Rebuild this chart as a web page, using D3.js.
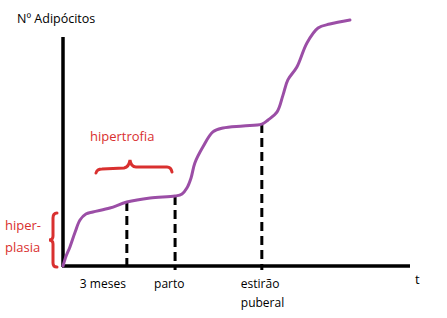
<!DOCTYPE html>
<html>
<head>
<meta charset="utf-8">
<script src="https://cdn.jsdelivr.net/npm/d3@7"></script>
<style>
  body { margin: 0; background: #fff; }
  text { font-family: "Open Sans", sans-serif; }
</style>
</head>
<body>
<svg id="chart" width="447" height="318"></svg>
<script>
// curve (t, number of adipocytes), arbitrary units
const curveT = [0, 0.9, 2.0, 3.5, 4.9, 6.6, 8.6, 13.5, 18.4, 25.1, 32.3, 34.3, 35.7, 36.9, 38.0, 40.3, 43.2, 46.1, 51.9, 57.3, 59.1, 61.7, 63.4, 64.8, 67.4, 70.3, 73.5, 76.9, 82.7];
const curveN = [0, 4.3, 8.3, 14.8, 20, 22.6, 23.5, 25.2, 27.8, 29.6, 30.4, 31.3, 33.9, 38.3, 44.8, 51.7, 58.3, 60, 60.9, 61.7, 63.5, 67, 74.3, 80.9, 86.5, 97, 103.5, 105.2, 107];

const markT = [18.4, 32.3, 57.3];
const markN = [27.8, 30.4, 61.7];
const markLabels = [["3 meses"], ["parto"], ["estirão", "puberal"]];

const svg = d3.select("#chart");
const origin = { x: 63, y: 266 };

const x = d3.scaleLinear().domain([0, 100]).range([origin.x, 410]);
const y = d3.scaleLinear().domain([0, 100]).range([origin.y, 36]);

const red = "#d9302f";
const purple = "#9b4ea6";

// axes
svg.append("line")
    .attr("x1", x(0)).attr("x2", x(0))
    .attr("y1", y(0) + 1).attr("y2", 37)
    .attr("stroke", "#000").attr("stroke-width", 3.5);
svg.append("line")
    .attr("x1", x(0) - 1).attr("x2", x(100))
    .attr("y1", y(0)).attr("y2", y(0))
    .attr("stroke", "#000").attr("stroke-width", 3.5);

svg.append("text")
    .attr("x", 17).attr("y", 23)
    .attr("font-size", 12.5)
    .text("Nº Adipócitos");

svg.append("text")
    .attr("x", 415).attr("y", 284)
    .attr("font-size", 13)
    .text("t");

// dashed drop lines + ticks
const marks = markT.map((t, i) => ({ t, n: markN[i], label: markLabels[i] }));

svg.append("g")
    .selectAll("line")
    .data(marks)
    .join("line")
    .attr("x1", d => x(d.t)).attr("x2", d => x(d.t))
    .attr("y1", d => y(d.n)).attr("y2", y(0) + 4)
    .attr("stroke", "#000")
    .attr("stroke-width", 3)
    .attr("stroke-dasharray", "9,5");

svg.append("g")
    .selectAll("text")
    .data(marks)
    .join("text")
    .attr("font-size", 12)
    .attr("text-anchor", "start")
    .attr("x", (d, i) => x(d.t) + [-47, -21, -21][i])
    .attr("y", 288)
    .selectAll("tspan")
    .data(d => d.label.map(s => ({ s, xx: 0 })))
    .join("tspan")
    .attr("dy", (d, i) => i === 0 ? 0 : 19)
    .text(d => d.s);

// fix tspan x for multiline
svg.selectAll("tspan").each(function(d, i) {
    const parent = d3.select(this.parentNode);
    d3.select(this).attr("x", parent.attr("x"));
});

// curve
const line = d3.line()
    .x((d, i) => x(curveT[i]))
    .y(d => y(d))
    .curve(d3.curveCatmullRom);

svg.append("path")
    .datum(curveN)
    .attr("d", line)
    .attr("fill", "none")
    .attr("stroke", purple)
    .attr("stroke-width", 3)
    .attr("stroke-linejoin", "round")
    .attr("stroke-linecap", "round");

// hyperplasia brace (vertical)
const vBrace = d3.path();
vBrace.moveTo(57, 213);
vBrace.quadraticCurveTo(53, 213, 53, 218);
vBrace.lineTo(53, 236);
vBrace.quadraticCurveTo(53, 240, 49, 240);
vBrace.quadraticCurveTo(53, 240, 53, 244);
vBrace.lineTo(53, 263);
vBrace.quadraticCurveTo(53, 267, 57, 267);
svg.append("path")
    .attr("d", vBrace.toString())
    .attr("fill", "none")
    .attr("stroke", red)
    .attr("stroke-width", 3)
    .attr("stroke-linecap", "round");

svg.append("text")
    .attr("fill", red)
    .attr("font-size", 13)
    .attr("x", 5).attr("y", 230)
    .text("hiper-");
svg.append("text")
    .attr("fill", red)
    .attr("font-size", 13)
    .attr("x", 5).attr("y", 252)
    .text("plasia");

// hypertrophy brace (horizontal)
const hBrace = d3.path();
hBrace.moveTo(96, 173);
hBrace.quadraticCurveTo(97, 169, 102, 169);
hBrace.lineTo(124, 168);
hBrace.quadraticCurveTo(129, 167, 130, 160);
hBrace.quadraticCurveTo(131, 167, 136, 167);
hBrace.lineTo(167, 167);
hBrace.quadraticCurveTo(171, 167, 172, 172);
svg.append("path")
    .attr("d", hBrace.toString())
    .attr("fill", "none")
    .attr("stroke", red)
    .attr("stroke-width", 3)
    .attr("stroke-linecap", "round");

svg.append("text")
    .attr("fill", red)
    .attr("font-size", 13)
    .attr("x", 90).attr("y", 141)
    .text("hipertrofia");
</script>
</body>
</html>
